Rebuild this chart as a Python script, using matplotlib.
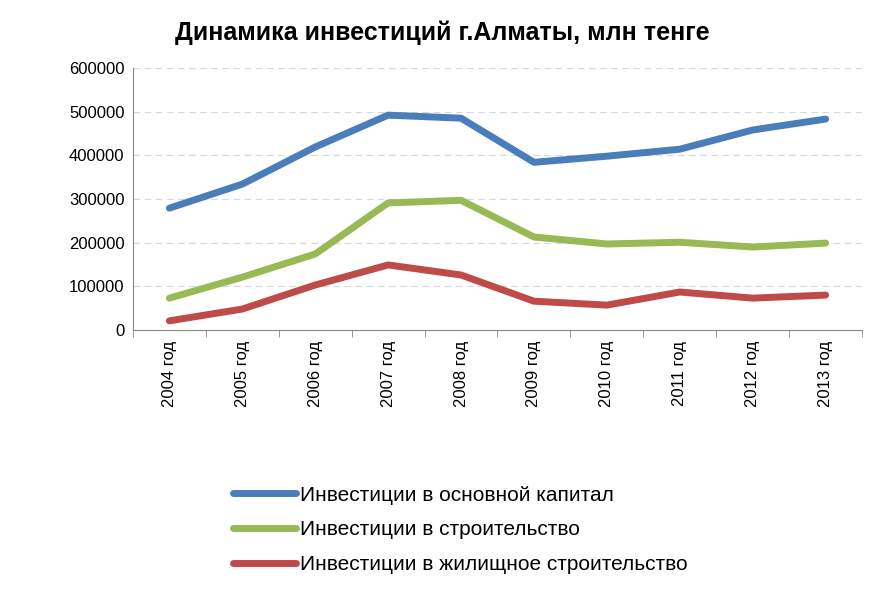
import matplotlib
matplotlib.use("Agg")
import matplotlib.pyplot as plt
plt.rcParams["font.family"] = "Liberation Sans"

years = ["2004 год","2005 год","2006 год","2007 год","2008 год","2009 год","2010 год","2011 год","2012 год","2013 год"]
capital = [279000,334000,419000,492000,485000,384000,398000,414000,458000,483000]
construction = [73000,121000,174000,291000,297000,213000,197000,201000,190000,199000]
housing = [21000,48000,103000,149000,126000,66000,57000,87000,73000,80000]
names = ["Инвестиции в основной капитал","Инвестиции в строительство","Инвестиции в жилищное строительство"]
colors = ["#4a7ebb","#98b954","#be4b48"]

fig = plt.figure(figsize=(8.86,5.91), dpi=100)
ax = fig.add_axes([0.150,0.4416,0.823,0.4434])
x = range(len(years))
lines = []
for s,c,n in zip([capital,construction,housing],colors,names):
    l, = ax.plot(x,s,color=c,lw=5,solid_capstyle="round",label=n)
    lines.append(l)
ax.set_xlim(-0.5,len(years)-0.5)
ax.set_ylim(0,600000)
ax.set_yticks(range(0,600001,100000))
ax.tick_params(axis="y",labelsize=12,length=0,pad=6)
ax.set_xticks(list(x))
ax.set_xticklabels(years,rotation=90,fontsize=12)
ax.set_xticks([i-0.5 for i in range(len(years)+1)],minor=True)
ax.tick_params(axis="x",which="major",length=0,pad=8)
ax.tick_params(axis="x",which="minor",length=5,color="#888888")
for sp in ["top","right"]:
    ax.spines[sp].set_visible(False)
ax.spines["left"].set_color("#888888")
ax.spines["bottom"].set_color("#888888")
ax.grid(axis="y",linestyle=(0,(6,4)),color="#d0d8e0",lw=0.8)
ax.set_axisbelow(True)
fig.text(0.499,0.945,"Динамика инвестиций г.Алматы, млн тенге",ha="center",va="center",fontsize=18,fontweight="bold")
fig.legend(handles=lines,loc="upper left",bbox_to_anchor=(0.242,0.21),frameon=False,fontsize=15,handlelength=3.0,labelspacing=0.75,handletextpad=0.2)
fig.savefig("out.png",dpi=100)
